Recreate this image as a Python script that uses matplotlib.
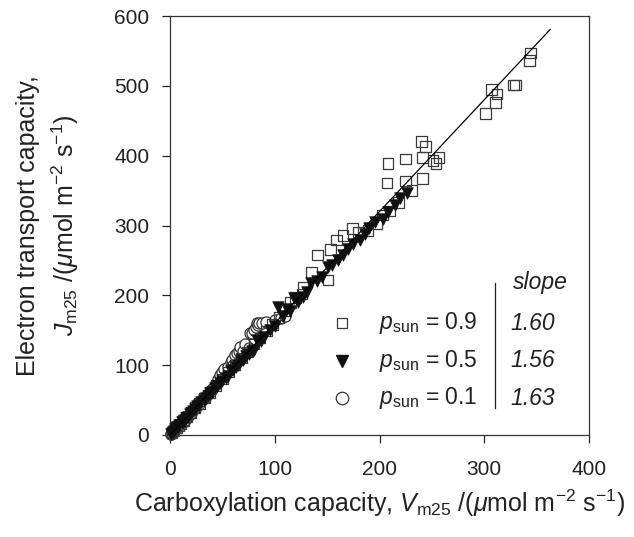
import matplotlib
matplotlib.use("Agg")
import matplotlib.pyplot as plt

plt.rcParams['font.family'] = ['Liberation Sans', 'DejaVu Sans']
plt.rcParams['mathtext.fontset'] = 'custom'
plt.rcParams['mathtext.rm'] = 'Liberation Sans'
plt.rcParams['mathtext.it'] = 'Liberation Sans:italic'
plt.rcParams['mathtext.bf'] = 'Liberation Sans:bold'

# p_sun = 0.9 (squares)
sq_x = [2, 4, 6, 8, 10, 13, 16, 20, 24, 28, 33, 38, 44, 50, 56, 62, 68, 74, 80, 86,
        92, 98, 104, 110, 115, 120, 126, 127, 135, 141, 151, 153, 159, 165, 174, 180,
        189, 197, 203, 210, 218, 207, 225, 231, 241, 208, 225, 241, 251, 254, 257,
        240, 244, 301, 307, 312, 311, 328, 330, 343, 344]
sq_y = [3, 6, 10, 13, 16, 21, 26, 32, 39, 45, 53, 61, 71, 80, 90, 100, 110, 119, 130, 139,
        149, 158, 168, 178, 190, 197, 202, 211, 233, 258, 222, 266, 279, 286, 296, 290,
        293, 303, 315, 321, 333, 361, 364, 350, 367, 389, 395, 397, 393, 389, 397,
        420, 413, 460, 495, 488, 476, 501, 501, 536, 547]

# p_sun = 0.5 (filled down-triangles)
tr_x = [1, 2, 3, 4, 5, 6, 7, 8, 9, 11, 12, 14, 15, 17, 19, 20, 22, 24, 26, 28, 30, 32,
        34, 36, 38, 40, 43, 45, 48, 50, 53, 55, 58, 60, 63, 65, 68, 70, 73, 75, 78,
        80, 83, 87, 90, 95, 100, 103, 108, 112, 115, 118, 122, 127, 131, 135, 140,
        145, 151, 155, 160, 165, 170, 175, 181, 186, 190, 196, 203, 208, 215, 220, 226]
tr_y = [2, 3, 5, 6, 8, 10, 11, 12, 14, 18, 19, 22, 24, 26, 30, 31, 35, 37, 41, 43, 47, 50,
        53, 56, 60, 62, 67, 70, 75, 78, 82, 85, 91, 93, 97, 100, 106, 108, 113, 116, 121,
        122, 136, 134, 140, 150, 156, 183, 170, 180, 178, 196, 190, 198, 205, 218, 220,
        226, 240, 243, 250, 258, 267, 273, 279, 288, 296, 305, 310, 320, 329, 340, 347]

# p_sun = 0.1 (open circles)
ci_x = [0.5, 1, 2, 3, 4, 5, 6, 7, 8, 9, 10, 12, 14, 16, 18, 20, 22, 24, 26, 28,
        30, 33, 36, 38, 40, 43, 46, 48, 50, 52, 55, 58, 59, 60, 62, 64, 66, 67, 68,
        70, 72, 75, 76, 78, 80, 82, 83, 84, 85, 88, 92, 100, 106, 110]
ci_y = [1, 2, 3, 5, 6, 8, 10, 11, 13, 15, 16, 19, 22, 26, 29, 32, 36, 39, 42, 45,
        49, 53, 58, 62, 66, 72, 80, 86, 90, 95, 98, 104, 107, 100, 114, 118, 121, 126, 110,
        120, 130, 124, 146, 146, 150, 155, 161, 158, 161, 160, 162, 165, 168, 171]

# fitted line (p_sun = 0.9 slope)
line_x = [0, 363]
line_slope = 1.60

legend_labels = ['0.9', '0.5', '0.1']
slopes = ['1.60', '1.56', '1.63']

fig = plt.figure(figsize=(6.34, 5.37), dpi=100)
ax = fig.add_axes([170/634, 1-435/537, 419/634, 419/537])

ax.scatter(ci_x, ci_y, s=8**2, marker='o', facecolors='white',
           edgecolors='#333333', linewidths=0.9, zorder=2, clip_on=False)
ax.scatter(sq_x, sq_y, s=7.6**2, marker='s', facecolors='none',
           edgecolors='#3a3a3a', linewidths=0.9, zorder=3, clip_on=False)
ax.scatter(tr_x, tr_y, s=8.3**2, marker='v', facecolors='#111111',
           edgecolors='#111111', linewidths=0.5, zorder=4, clip_on=False)
ax.plot(line_x, [line_slope * v for v in line_x], color='black', lw=0.9, zorder=5)

ax.set_xlim(0, 400)
ax.set_ylim(0, 600)
ax.set_xticks([0, 100, 200, 300, 400])
ax.set_yticks([0, 100, 200, 300, 400, 500, 600])
ax.tick_params(direction='out', length=6, width=0.9, labelsize=15, colors='#222222',
               top=False, right=False)
ax.tick_params(axis='x', pad=12)
ax.tick_params(axis='y', pad=9)
for sp in ax.spines.values():
    sp.set_color('#333333')
    sp.set_linewidth(0.9)

ax.set_xlabel(r'Carboxylation capacity, $V_{\mathrm{m25}}$ /($\mu$mol m$^{-2}$ s$^{-1}$)',
              fontsize=18, labelpad=6, color='#222222')
ax.set_ylabel('Electron transport capacity,\n' +
              r'$J_{\mathrm{m25}}$ /($\mu$mol m$^{-2}$ s$^{-1}$)',
              fontsize=18, labelpad=24, color='#222222', linespacing=1.4)

# custom legend
tr = ax.transAxes
mk_y = [0.267, 0.177, 0.088]
mk_styles = [dict(marker='s', mfc='none', mec='#3a3a3a', ms=7.6, mew=0.9),
             dict(marker='v', mfc='#111111', mec='#111111', ms=8.5),
             dict(marker='o', mfc='white', mec='#333333', ms=9, mew=0.9)]
for yy, st, lab, sl in zip(mk_y, mk_styles, legend_labels, slopes):
    ax.plot([0.410], [yy], transform=tr, linestyle='none', **st)
    ax.text(0.498, yy, r'$p_{\mathrm{sun}}$ = ' + lab, transform=tr, fontsize=16.5,
            va='center', ha='left', color='#222222')
    ax.text(0.866, yy, sl, transform=tr, fontsize=16.5, style='italic',
            va='center', ha='center', color='#222222')
ax.text(0.883, 0.363, 'slope', transform=tr, fontsize=16.5, style='italic',
        va='center', ha='center', color='#222222')
ax.plot([0.776, 0.776], [0.064, 0.363], transform=tr, color='#222222', lw=0.9)

fig.savefig('out.png', dpi=100)
